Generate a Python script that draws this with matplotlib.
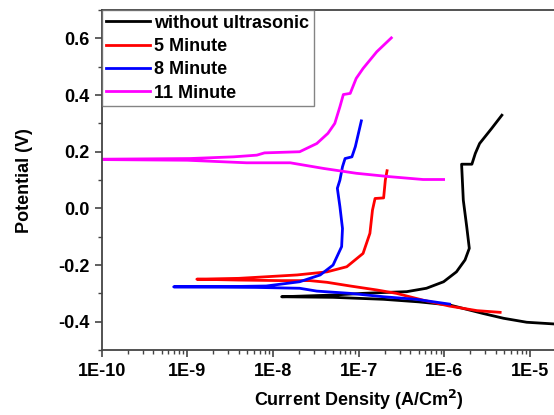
import numpy as np
import matplotlib
matplotlib.use("Agg")
import matplotlib.pyplot as plt
from matplotlib.ticker import LogLocator, FixedLocator, MultipleLocator

# ── Data (log10 of current density, potential in V) ─────────
black_logi = [-4.55, -4.72, -5.04, -5.31, -5.55, -5.94, -6.30, -6.71, -7.30, -7.90,
              -7.60, -7.30, -6.95, -6.71, -6.44, -6.21, -6.01, -5.86, -5.76, -5.71,
              -5.74, -5.78, -5.80, -5.68, -5.64, -5.59, -5.45, -5.33]
black_v    = [-0.410, -0.408, -0.402, -0.388, -0.371, -0.341, -0.330, -0.321, -0.314, -0.312,
              -0.309, -0.306, -0.300, -0.297, -0.294, -0.282, -0.259, -0.224, -0.182, -0.141,
              -0.065, 0.029, 0.156, 0.156, 0.194, 0.229, 0.282, 0.329]

red_logi = [-5.35, -5.62, -5.94, -6.25, -6.56, -6.79, -7.10, -7.37, -7.57, -7.90, -8.40, -8.89,
            -8.40, -7.72, -7.37, -7.14, -6.95, -6.87, -6.84, -6.81, -6.71, -6.69, -6.67]
red_v    = [-0.367, -0.361, -0.345, -0.324, -0.300, -0.288, -0.274, -0.261, -0.255, -0.255, -0.253, -0.250,
            -0.247, -0.235, -0.224, -0.206, -0.159, -0.088, -0.006, 0.035, 0.037, 0.100, 0.133]

blue_logi = [-5.94, -6.33, -6.71, -7.10, -7.49, -7.69, -8.20, -9.16,
             -8.50, -8.08, -7.69, -7.45, -7.30, -7.20, -7.19, -7.22, -7.25, -7.22, -7.19, -7.16,
             -7.08, -7.04, -6.97]
blue_v    = [-0.338, -0.321, -0.312, -0.300, -0.292, -0.282, -0.279, -0.277,
             -0.276, -0.274, -0.259, -0.235, -0.200, -0.135, -0.071, 0.006, 0.071, 0.100, 0.147, 0.176,
             0.182, 0.218, 0.309]

mag_logi = [-6.01, -6.25, -6.64, -7.03, -7.41, -7.80, -8.31, -9.00, -10.30,
            -8.97, -8.46, -8.19, -8.10, -7.69, -7.49, -7.36, -7.28, -7.22, -7.18, -7.10, -7.03,
            -6.95, -6.79, -6.62]
mag_v    = [0.102, 0.102, 0.112, 0.124, 0.141, 0.161, 0.161, 0.170, 0.173,
            0.176, 0.182, 0.188, 0.196, 0.200, 0.229, 0.265, 0.300, 0.359, 0.402, 0.406, 0.459,
            0.494, 0.553, 0.602]

labels = ["without ultrasonic", "5 Minute", "8 Minute", "11 Minute"]
colors = ["black", "red", "blue", "magenta"]

# ── Plot ─────────────────────────────────────────────────────
plt.rcParams['font.family'] = ['Liberation Sans', 'DejaVu Sans']
plt.rcParams['font.weight'] = 'bold'

fig = plt.figure(figsize=(5.54, 4.15), dpi=100)
ax = fig.add_axes([0.1836, 0.1566, 0.928, 0.819])

series = [(black_logi, black_v), (red_logi, red_v), (blue_logi, blue_v), (mag_logi, mag_v)]
for (li, v), lab, c in zip(series, labels, colors):
    ax.plot(np.power(10.0, li), v, color=c, lw=2.0, label=lab)

ax.set_xscale("log")
ax.set_xlim(1e-10, 1e-4)
ax.set_ylim(-0.5, 0.7)

ax.xaxis.set_major_locator(FixedLocator([1e-10, 1e-9, 1e-8, 1e-7, 1e-6, 1e-5]))
ax.xaxis.set_minor_locator(LogLocator(base=10, subs=np.arange(2, 10), numticks=20))
ax.set_xticklabels(["1E-10", "1E-9", "1E-8", "1E-7", "1E-6", "1E-5"])
ax.yaxis.set_minor_locator(MultipleLocator(0.1))
ax.set_yticks([-0.4, -0.2, 0.0, 0.2, 0.4, 0.6])
ax.set_yticklabels(["-0.4", "-0.2", "0.0", "0.2", "0.4", "0.6"])

for s in ax.spines.values():
    s.set_color("#444444")
    s.set_linewidth(1.3)
ax.tick_params(which="major", direction="out", length=4.7, width=1.2, color="#444444",
               labelsize=13)
ax.tick_params(axis="x", which="major", pad=5)
ax.tick_params(axis="y", which="major", pad=4)
ax.tick_params(which="minor", direction="out", length=3, width=1.0, color="#444444")

ax.set_xlabel("Current Density (A/Cm$^\\mathbf{2}$)", fontsize=13, fontweight="bold", labelpad=5)
ax.set_ylabel("Potential (V)", fontsize=13, fontweight="bold", labelpad=18)

leg = ax.legend(loc="upper left", bbox_to_anchor=(0.0, 1.0), frameon=True,
                fancybox=False, handlelength=2.4, handletextpad=0.25, labelspacing=0.35,
                borderaxespad=0.0, borderpad=0.25, prop={"weight": "bold", "size": 13})
leg.get_frame().set_edgecolor("#666666")
leg.get_frame().set_linewidth(1.0)

fig.savefig("out.png", dpi=100)
